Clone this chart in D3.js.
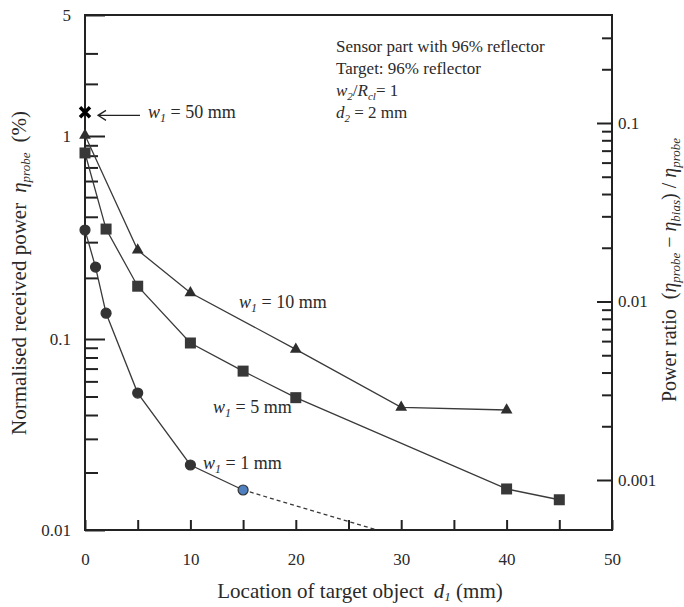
<!DOCTYPE html>
<html>
<head>
<meta charset="utf-8">
<script src="https://cdn.jsdelivr.net/npm/d3@7"></script>
<style>
  body { margin: 0; background: #fff; }
  text { font-family: "Liberation Serif", "Times New Roman", serif; fill: #2a2a2a; }
  .axis path.domain { display: none; }
  .axis line { stroke: #222; stroke-width: 2; }
</style>
</head>
<body>
<div id="chart"></div>
<script>
// data
var d1Circle = [0, 1, 2, 5, 10, 15];
var etaCircle = [0.344, 0.226, 0.134, 0.0521, 0.0219, 0.0162];
var d1Square = [0, 2, 5, 10, 15, 20, 40, 45];
var etaSquare = [0.825, 0.348, 0.182, 0.0953, 0.0679, 0.0493, 0.0164, 0.0144];
var d1Tri = [0, 5, 10, 20, 30, 40];
var etaTri = [1.01, 0.274, 0.169, 0.0883, 0.0439, 0.0425];
var d1Cross = [0];
var etaCross = [1.37];
var d1Dash = [15, 27.7];
var etaDash = [0.0162, 0.01];

var xMajor = [0, 10, 20, 30, 40, 50];
var xMinor = [5, 15, 25, 35, 45];
var yMajor = [0.01, 0.1, 1, 5];
var yMinor = [0.02, 0.03, 0.04, 0.05, 0.06, 0.07, 0.08, 0.09,
              0.2, 0.3, 0.4, 0.5, 0.6, 0.7, 0.8, 0.9, 2, 3];
var y2Major = [0.001, 0.01, 0.1];
var y2Minor = [0.002, 0.003, 0.004, 0.005, 0.006, 0.007, 0.008, 0.009,
               0.02, 0.03, 0.04, 0.05, 0.06, 0.07, 0.08, 0.09, 0.2, 0.3];

var W = 684, H = 607;
var pLeft = 85, pRight = 612, pTop = 15, pBottom = 530;

var svg = d3.select("#chart").append("svg")
  .attr("width", W)
  .attr("height", H);

var x = d3.scaleLinear().domain([0, 50]).range([pLeft, pRight]);
// the printed left axis is not quite uniform per decade, follow its tick positions
var y = d3.scaleLog().domain([0.01, 0.1, 1, 5]).range([pBottom, 339, 136, pTop]);
var y2 = d3.scaleLog().domain([0.001, 0.1]).range([480, 123]);

svg.append("defs").append("clipPath").attr("id", "clip")
  .append("rect").attr("x", pLeft).attr("y", pTop)
  .attr("width", pRight - pLeft).attr("height", pBottom - pTop);

/****** AXES ******/
svg.append("g").attr("class", "axis")
  .attr("transform", "translate(0," + pBottom + ")")
  .call(d3.axisBottom(x).tickValues(xMajor).tickSizeInner(-10).tickSizeOuter(0).tickPadding(23))
  .selectAll("text").style("font-size", "17px").attr("font-family", null);

svg.append("g").attr("class", "axis")
  .attr("transform", "translate(0," + pBottom + ")")
  .call(d3.axisBottom(x).tickValues(xMinor).tickSizeInner(-10).tickSizeOuter(0).tickFormat(""));

svg.append("g").attr("class", "axis")
  .attr("transform", "translate(" + pLeft + ",0)")
  .call(d3.axisLeft(y).tickValues(yMajor).tickSizeInner(-20).tickSizeOuter(0).tickPadding(14)
    .tickFormat(function(d) { return d3.format("~g")(d); }))
  .selectAll("text").style("font-size", "17px").attr("font-family", null);

svg.append("g").attr("class", "axis")
  .attr("transform", "translate(" + pLeft + ",0)")
  .call(d3.axisLeft(y).tickValues(yMinor).tickSizeInner(-13).tickSizeOuter(0).tickFormat(""));

svg.append("g").attr("class", "axis")
  .attr("transform", "translate(" + pRight + ",0)")
  .call(d3.axisRight(y2).tickValues(y2Major).tickSizeInner(-15).tickSizeOuter(0).tickPadding(6)
    .tickFormat(function(d) { return d3.format("~g")(d); }))
  .selectAll("text").style("font-size", "17px").attr("font-family", null);

svg.append("g").attr("class", "axis")
  .attr("transform", "translate(" + pRight + ",0)")
  .call(d3.axisRight(y2).tickValues(y2Minor).tickSizeInner(-10).tickSizeOuter(0).tickFormat(""));

// frame
svg.append("rect")
  .attr("x", pLeft).attr("y", pTop)
  .attr("width", pRight - pLeft).attr("height", pBottom - pTop)
  .attr("fill", "none").attr("stroke", "#222").attr("stroke-width", 2);

/****** LINES ******/
var line = d3.line()
  .x(function(d) { return x(d[0]); })
  .y(function(d) { return y(d[1]); });

function pairs(xs, ys) { return xs.map(function(v, i) { return [v, ys[i]]; }); }

var plot = svg.append("g").attr("clip-path", "url(#clip)");

[pairs(d1Circle, etaCircle), pairs(d1Square, etaSquare), pairs(d1Tri, etaTri)].forEach(function(p) {
  plot.append("path").datum(p)
    .attr("d", line)
    .attr("fill", "none").attr("stroke", "#3a3a3a").attr("stroke-width", 1.3);
});

plot.append("path").datum(pairs(d1Dash, etaDash))
  .attr("d", line)
  .attr("fill", "none").attr("stroke", "#3a3a3a").attr("stroke-width", 1.3)
  .attr("stroke-dasharray", "4,3");

/****** MARKERS ******/
var mk = svg.append("g");

mk.selectAll("circle.c").data(pairs(d1Circle, etaCircle)).enter()
  .append("circle")
  .attr("cx", function(d) { return x(d[0]); })
  .attr("cy", function(d) { return y(d[1]); })
  .attr("r", 5)
  .attr("fill", function(d, i) { return i == d1Circle.length - 1 ? "#4f7fbf" : "#333"; })
  .attr("stroke", "#333").attr("stroke-width", 1.2);

mk.selectAll("rect.s").data(pairs(d1Square, etaSquare)).enter()
  .append("rect")
  .attr("x", function(d) { return x(d[0]) - 5.5; })
  .attr("y", function(d) { return y(d[1]) - 5.5; })
  .attr("width", 11).attr("height", 11)
  .attr("fill", "#383838");

mk.selectAll("path.t").data(pairs(d1Tri, etaTri)).enter()
  .append("path")
  .attr("transform", function(d) { return "translate(" + x(d[0]) + "," + y(d[1]) + ")"; })
  .attr("d", d3.symbol().type(d3.symbolTriangle).size(60))
  .attr("fill", "#2e2e2e");

mk.selectAll("path.x").data(pairs(d1Cross, etaCross)).enter()
  .append("path")
  .attr("transform", function(d) { return "translate(" + x(d[0]) + "," + y(d[1]) + ")"; })
  .attr("d", "M-5,-5L5,5M5,-5L-5,5")
  .attr("stroke", "#000").attr("stroke-width", 3.5);

/****** LABELS ******/
function wLabel(tx, ty, rest) {
  var t = svg.append("text").attr("x", tx).attr("y", ty).style("font-size", "18px");
  t.append("tspan").style("font-style", "italic").text("w");
  t.append("tspan").style("font-style", "italic").style("font-size", "12px").attr("dy", 4).text("1");
  t.append("tspan").attr("dy", -4).text(rest);
  return t;
}
wLabel(148, 118, " = 50 mm");
wLabel(239, 308, " = 10 mm");
wLabel(213, 413, " = 5 mm");
wLabel(203, 469, " = 1 mm");

// arrow to the 50 mm point
var ay = y(etaCross[0]) + 3;
svg.append("path")
  .attr("d", "M98," + ay + "L140," + ay + "M106," + (ay - 5) + "L98," + ay + "L106," + (ay + 5))
  .attr("fill", "none").attr("stroke", "#222").attr("stroke-width", 1.3);

// conditions box
var info = svg.append("g").style("font-size", "17px");
info.append("text").attr("x", 336).attr("y", 52).text("Sensor part with 96% reflector");
info.append("text").attr("x", 336).attr("y", 74).text("Target: 96% reflector");
var t3 = info.append("text").attr("x", 336).attr("y", 96);
t3.append("tspan").style("font-style", "italic").text("w");
t3.append("tspan").style("font-style", "italic").style("font-size", "11px").attr("dy", 4).text("2");
t3.append("tspan").attr("dy", -4).text("/");
t3.append("tspan").style("font-style", "italic").text("R");
t3.append("tspan").style("font-style", "italic").style("font-size", "11px").attr("dy", 4).text("cl");
t3.append("tspan").attr("dy", -4).text("= 1");
var t4 = info.append("text").attr("x", 336).attr("y", 118);
t4.append("tspan").style("font-style", "italic").text("d");
t4.append("tspan").style("font-style", "italic").style("font-size", "11px").attr("dy", 4).text("2");
t4.append("tspan").attr("dy", -4).text(" = 2 mm");

// x axis title
var xt = svg.append("text").attr("x", 360).attr("y", 598)
  .attr("text-anchor", "middle").style("font-size", "21px");
xt.append("tspan").text("Location of target object");
xt.append("tspan").attr("dx", 10).style("font-style", "italic").text("d");
xt.append("tspan").style("font-style", "italic").style("font-size", "13px").attr("dy", 3).text("1");
xt.append("tspan").attr("dy", -3).text(" (mm)");

// left axis title
var yt = svg.append("text")
  .attr("transform", "translate(26,273) rotate(-90)")
  .attr("text-anchor", "middle").style("font-size", "21px");
yt.append("tspan").text("Normalised received power");
yt.append("tspan").attr("dx", 10).style("font-style", "italic").text("η");
yt.append("tspan").style("font-style", "italic").style("font-size", "13px").attr("dy", 4).text("probe");
yt.append("tspan").attr("dy", -4).attr("dx", 10).text("(%)");

// right axis title
var y2t = svg.append("text")
  .attr("transform", "translate(676,270) rotate(-90)")
  .attr("text-anchor", "middle").style("font-size", "20px");
y2t.append("tspan").text("Power ratio");
y2t.append("tspan").attr("dx", 10).text("(");
y2t.append("tspan").style("font-style", "italic").text("η");
y2t.append("tspan").style("font-style", "italic").style("font-size", "13px").attr("dy", 4).text("probe");
y2t.append("tspan").attr("dy", -4).text(" − ");
y2t.append("tspan").style("font-style", "italic").text("η");
y2t.append("tspan").style("font-style", "italic").style("font-size", "13px").attr("dy", 4).text("bias");
y2t.append("tspan").attr("dy", -4).text(") / ");
y2t.append("tspan").style("font-style", "italic").text("η");
y2t.append("tspan").style("font-style", "italic").style("font-size", "13px").attr("dy", 4).text("probe");
</script>
</body>
</html>
